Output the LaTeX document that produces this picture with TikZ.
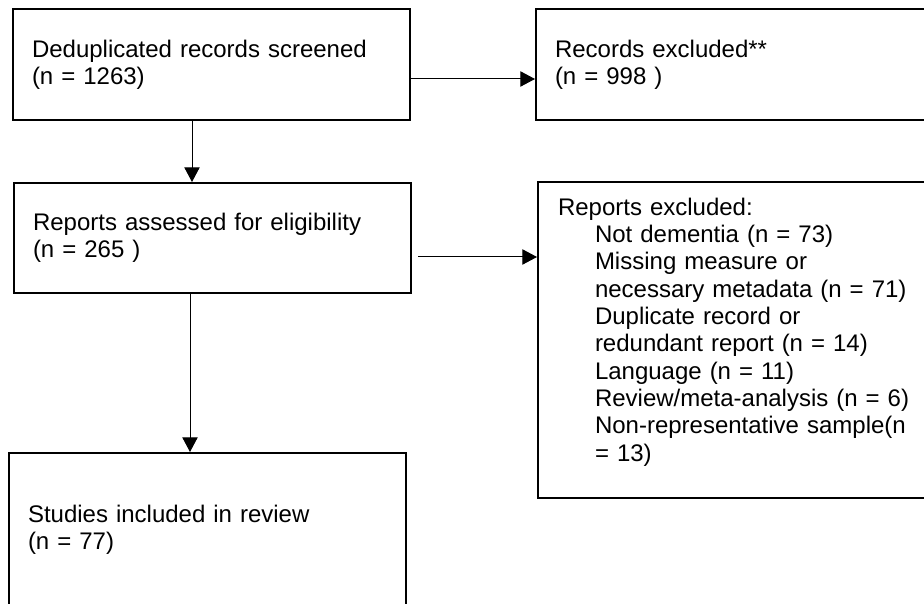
\documentclass[tikz,border=0pt]{standalone}
\usepackage{fontspec}
\setmainfont{Liberation Sans}
\usetikzlibrary{arrows.meta}
\newcommand{\ind}{\hspace*{27.75pt}}

\begin{document}
\begin{tikzpicture}[->,>={Triangle[length=11pt,width=11.5pt]},x=0.75pt,y=0.75pt,
  line width=0.75pt,
  box/.style={rectangle,draw,line width=1.5pt,align=left,inner xsep=14.25pt,
    text width=#1,font=\fontsize{18}{20.5}\selectfont}]

  \path[use as bounding box,clip] (0,0) rectangle (924,603);

  \node[box=269.25pt,minimum height=83.25pt] (dedup) at (211.5,538.5) {Deduplicated records screened\\(n = 1263)};
  \node[box=319.5pt,minimum height=83.25pt] (recexcl) at (768,538.5) {Records excluded**\\(n = 998 )};
  \node[box=269.25pt,minimum height=82.5pt] (assess) at (212.5,365) {Reports assessed for eligibility\\(n = 265 )};
  \node[box=316.5pt,inner xsep=15pt,minimum height=237pt] (repexcl) at (769,263) {Reports excluded:\\
    \ind Not dementia (n = 73)\\
    \ind Missing measure or\\
    \ind necessary metadata (n = 71)\\
    \ind Duplicate record or\\
    \ind redundant report (n = 14)\\
    \ind Language (n = 11)\\
    \ind Review/meta-analysis (n = 6)\\
    \ind Non-representative sample(n\\
    \ind = 13)\rule[-16pt]{0pt}{16pt}};
  \node[box=269.25pt,minimum height=114.75pt] (incl) at (207.5,73.5) {Studies included in review\\(n = 77)};

  \draw ([yshift=-10.875pt]dedup.east) -- ([yshift=-10.875pt]recexcl.west);
  \draw ([xshift=-14.625pt]dedup.south) -- ([xshift=-15.375pt]assess.north);
  \draw ([shift={(4.5pt,-14.25pt)}]assess.east) -- ([yshift=62.25pt]repexcl.west);
  \draw ([xshift=-16.875pt]assess.south) -- ([xshift=-13.125pt]incl.north);

\end{tikzpicture}
\end{document}
